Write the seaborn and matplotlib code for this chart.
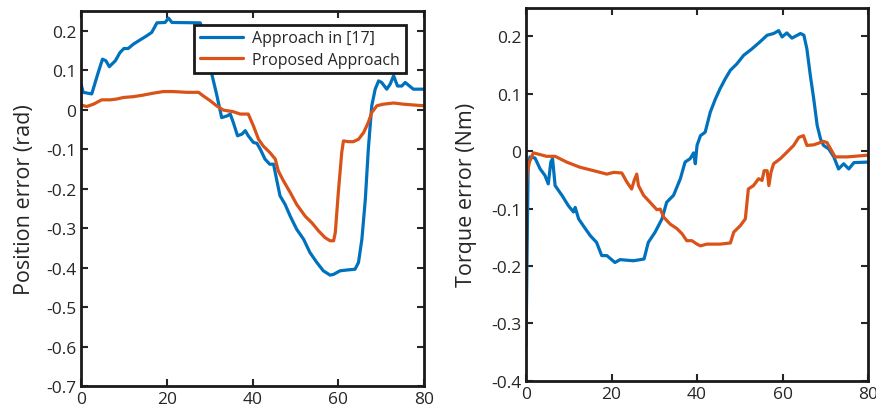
import numpy as np
import pandas as pd
import seaborn as sns
import matplotlib
matplotlib.use("Agg")
import matplotlib.pyplot as plt

# ---- position error (rad) ----
pos_blue_t = [0, 0.5, 2.5, 4, 5, 5.8, 6.6, 8, 9.1, 10, 11, 12.2, 13.8, 15.3, 16.5, 17.7, 19.6, 20.4,
              21.2, 27.8, 28.5, 29.5, 30.5, 31.6, 32.8, 34, 34.8, 35.5, 36.5, 37.5, 38.3, 39, 40.2, 41,
              41.8, 42.9, 44, 44.9, 45.6, 46.4, 47.6, 48.8, 50.3, 51.9, 53.4, 55, 56.5, 58.1, 58.9,
              60.4, 62, 63.9, 64.7, 65.5, 66.3, 67, 67.8, 68.6, 69.4, 70.1, 71.3, 72.1, 72.9, 73.8,
              74.8, 75.6, 77.5, 80]
pos_blue = [0.065, 0.044, 0.04, 0.094, 0.128, 0.124, 0.109, 0.124, 0.145, 0.155, 0.155, 0.166, 0.177,
            0.187, 0.196, 0.22, 0.221, 0.232, 0.221, 0.22, 0.196, 0.15, 0.09, 0.04, -0.02, -0.016,
            -0.011, -0.032, -0.066, -0.062, -0.053, -0.066, -0.083, -0.085, -0.1, -0.125, -0.138,
            -0.138, -0.176, -0.218, -0.24, -0.27, -0.303, -0.328, -0.362, -0.387, -0.408, -0.419,
            -0.417, -0.408, -0.406, -0.404, -0.387, -0.328, -0.227, -0.1, 0.01, 0.052, 0.073, 0.069,
            0.052, 0.065, 0.086, 0.06, 0.06, 0.069, 0.052, 0.052]

pos_red_t = [0, 1.3, 2.9, 4.8, 6.8, 8.3, 9.9, 12.2, 14.5, 16.9, 19.2, 21.5, 24.7, 27.4, 28.5, 30.1,
             31.6, 33.2, 35.5, 37.1, 39, 40.2, 41.4, 42.5, 44, 45.3, 46, 47.2, 48.8, 50.3, 52.3, 53.8,
             55.4, 56.9, 58.1, 58.9, 59.3, 60, 60.8, 61.2, 62.4, 63.5, 64.7, 65.9, 67, 67.8, 69,
             70.5, 72.9, 75.2, 77.5, 80]
pos_red = [0.012, 0.008, 0.014, 0.025, 0.025, 0.027, 0.031, 0.033, 0.037, 0.042, 0.046, 0.046, 0.044,
           0.044, 0.035, 0.023, 0.01, -0.001, -0.005, -0.011, -0.011, -0.041, -0.075, -0.092, -0.108,
           -0.125, -0.155, -0.18, -0.21, -0.24, -0.27, -0.286, -0.307, -0.324, -0.332, -0.332, -0.311,
           -0.21, -0.108, -0.079, -0.081, -0.081, -0.075, -0.058, -0.032, -0.007, 0.01, 0.014, 0.017,
           0.014, 0.012, 0.01]

# ---- torque error (Nm) ----
trq_blue_t = [0, 0.3, 0.5, 0.9, 2.1, 3.3, 4.4, 5.2, 5.8, 6.2, 6.8, 8.4, 9.9, 11.1, 11.5, 12.3, 13.4,
              15, 16.5, 17.7, 18.9, 20.8, 22, 25.1, 27.6, 28.6, 30.2, 31.8, 32.9, 34.5, 36.1, 37.2,
              38.4, 39.2, 39.6, 40, 40.8, 41.9, 43.1, 44.3, 45.4, 46.6, 47.8, 49.3, 50.9, 52.8, 54.8,
              56.4, 57.9, 59.1, 59.9, 61, 62.2, 64.2, 65, 65.7, 66.5, 67.3, 68.1, 68.9, 69.6, 70.8,
              72, 73.1, 74.3, 75.5, 76.7, 80]
trq_blue = [-0.339, -0.141, -0.025, -0.01, -0.012, -0.031, -0.042, -0.057, -0.019, -0.013, -0.06,
            -0.077, -0.095, -0.106, -0.098, -0.118, -0.13, -0.147, -0.159, -0.182, -0.182, -0.194,
            -0.189, -0.191, -0.188, -0.159, -0.141, -0.118, -0.089, -0.077, -0.048, -0.019, -0.013,
            -0.003, -0.022, 0.01, 0.027, 0.033, 0.068, 0.091, 0.109, 0.126, 0.141, 0.152, 0.167,
            0.178, 0.191, 0.202, 0.205, 0.21, 0.199, 0.206, 0.197, 0.205, 0.202, 0.178, 0.132, 0.091,
            0.045, 0.021, 0.01, 0.004, -0.01, -0.031, -0.022, -0.031, -0.02, -0.019]

trq_red_t = [0, 0.3, 0.8, 1.7, 3.3, 4.8, 6.8, 9.5, 12.6, 15.8, 18.9, 20.5, 22.4, 23.6, 24.7, 25.3,
             25.9, 26.3, 27.5, 29, 30.6, 31.4, 32.2, 33.7, 35.3, 36.5, 37.6, 38.8, 40, 40.8, 42.3,
             45.4, 47.8, 48.6, 50.1, 51.3, 52, 53.2, 54.4, 55.2, 55.7, 56.4, 56.8, 57.3, 57.9, 59.5,
             61, 61.8, 62.6, 63.8, 64.9, 65.7, 67.3, 69.6, 70.4, 72.3, 75.1, 80]
trq_red = [-0.069, -0.037, -0.019, -0.003, -0.006, -0.009, -0.009, -0.019, -0.028, -0.034, -0.04,
           -0.037, -0.038, -0.054, -0.066, -0.051, -0.04, -0.06, -0.077, -0.089, -0.102, -0.101,
           -0.115, -0.127, -0.135, -0.144, -0.156, -0.156, -0.162, -0.165, -0.162, -0.162, -0.16,
           -0.141, -0.13, -0.118, -0.066, -0.06, -0.048, -0.051, -0.034, -0.034, -0.06, -0.037,
           -0.022, -0.013, -0.002, 0.004, 0.01, 0.024, 0.027, 0.01, 0.011, 0.017, 0.015, -0.01,
           -0.01, -0.007]

labels = ["Approach in [17]", "Proposed Approach"]
blue = "#0072BD"
red = "#D95319"

sns.set_style("ticks")
plt.rcParams['font.family'] = ['Open Sans', 'DejaVu Sans']

fig = plt.figure(figsize=(8.76, 4.14), dpi=100)
ax1 = fig.add_axes([0.0925, 0.065, 0.3916, 0.906])
ax2 = fig.add_axes([0.6005, 0.078, 0.3904, 0.901])

sns.lineplot(x=pos_blue_t, y=pos_blue, ax=ax1, color=blue, lw=2.3, label=labels[0])
sns.lineplot(x=pos_red_t, y=pos_red, ax=ax1, color=red, lw=2.3, label=labels[1])
sns.lineplot(x=trq_blue_t, y=trq_blue, ax=ax2, color=blue, lw=2.3)
sns.lineplot(x=trq_red_t, y=trq_red, ax=ax2, color=red, lw=2.3)

def fmt(v):
    s = "%g" % round(v, 2)
    return "0" if s in ("0", "-0") else s

ax1.set_xlim(0, 80)
ax1.set_ylim(-0.7, 0.25)
ax1.set_yticks(np.arange(-0.7, 0.21, 0.1))
ax1.set_yticklabels([fmt(v) for v in np.arange(-0.7, 0.21, 0.1)])
ax1.set_ylabel("Position error (rad)", fontsize=15.5, labelpad=8)

ax2.set_xlim(0, 80)
ax2.set_ylim(-0.4, 0.25)
ax2.set_yticks(np.arange(-0.4, 0.21, 0.1))
ax2.set_yticklabels([fmt(v) for v in np.arange(-0.4, 0.21, 0.1)])
ax2.set_ylabel("Torque error (Nm)", fontsize=15.5, labelpad=10)

for ax in (ax1, ax2):
    ax.set_xticks([0, 20, 40, 60, 80])
    ax.tick_params(direction="in", top=True, right=True, length=5, width=1.5,
                   labelsize=12.5, labelcolor="#262626", color="#262626")
    for s in ax.spines.values():
        s.set_linewidth(2.0)
        s.set_color("#1a1a1a")
        s.set_visible(True)

leg = ax1.legend(loc="upper right", fontsize=11.5, frameon=True, fancybox=False,
                 handlelength=2.7, borderpad=0.35, labelspacing=0.35, handletextpad=0.6,
                 bbox_to_anchor=(0.97, 0.985))
leg.get_frame().set_edgecolor("#1a1a1a")
leg.get_frame().set_linewidth(2.0)
leg.get_frame().set_alpha(1)

fig.savefig("out.png", dpi=100)
